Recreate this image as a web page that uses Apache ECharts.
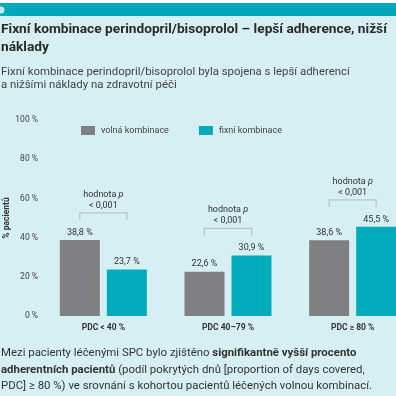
<!DOCTYPE html>
<html>
<head>
<meta charset="utf-8">
<script src="https://cdn.jsdelivr.net/npm/echarts@6/dist/echarts.min.js"></script>
<style>
  html, body { margin: 0; padding: 0; background: #d6eff3; }
  #chart { width: 396px; height: 396px; }
</style>
</head>
<body>
<div id="chart"></div>
<script>
// data
const categories = ['PDC < 40 %', 'PDC 40–79 %', 'PDC ≥ 80 %'];
const volna = [38.8, 22.6, 38.6];
const fixni = [23.7, 30.9, 45.5];
const pLabels = ['< 0,001', '< 0,001', '< 0,001'];
const yTicks = [0, 20, 40, 60, 80, 100];

const GRAY = '#808082';
const TEAL = '#00abbb';
const FONT = 'Roboto';

let chart = echarts.init(document.getElementById('chart'), null, { renderer: 'canvas' });

const fmt = (v) => v.toFixed(1).replace('.', ',') + ' %';

// bracket + p-value above each group
const bracketData = categories.map((c, i) => [i, Math.max(volna[i], fixni[i]), pLabels[i]]);

let option = {
  backgroundColor: '#d6eff3',
  animation: false,
  textStyle: { fontFamily: FONT },
  graphic: [
    { type: 'rect', shape: { x: 0, y: 3, width: 396, height: 13 }, style: { fill: '#00a9b9' } },
    { type: 'rect', shape: { x: 0, y: 0, width: 396, height: 3 }, style: { fill: '#ffffff' } },
    { type: 'circle', shape: { cx: 1, cy: 10, r: 3.5 }, style: { fill: '#bfe9ee' } }
  ],
  title: [
    {
      text: 'Fixní kombinace perindopril/bisoprolol – lepší adherence, nižší\nnáklady',
      left: 1, top: 21, padding: 0,
      textStyle: { fontFamily: FONT, fontSize: 13.7, fontWeight: 'bold', color: '#2a2a2a', lineHeight: 18 }
    },
    {
      text: 'Fixní kombinace perindopril/bisoprolol byla spojena s lepší adherencí\na nižšími náklady na zdravotní péči',
      left: 1, top: 65, padding: 0,
      textStyle: { fontFamily: FONT, fontSize: 11.4, fontWeight: 'normal', color: '#444', lineHeight: 13.5 }
    },
    {
      text: 'Mezi pacienty léčenými SPC bylo zjištěno {b|signifikantně vyšší procento}\n{b|adherentních pacientů} (podíl pokrytých dnů [proportion of days covered,\nPDC] ≥ 80 %) ve srovnání s kohortou pacientů léčených volnou kombinací.',
      left: 1, top: 345, padding: 0,
      textStyle: {
        fontFamily: FONT, fontSize: 11.4, fontWeight: 'normal', color: '#333', lineHeight: 16.5,
        rich: { b: { fontFamily: FONT, fontSize: 11.4, fontWeight: 'bold', color: '#333', lineHeight: 16.5 } }
      }
    }
  ],
  legend: {
    left: 81, top: 126, padding: 0,
    itemWidth: 14, itemHeight: 9, itemGap: 30,
    icon: 'rect',
    textStyle: { fontFamily: FONT, fontSize: 9, color: '#444', padding: [0, 0, 0, 1] },
    data: ['volná kombinace', 'fixní kombinace']
  },
  grid: { left: 41, top: 120, width: 374, bottom: 80, outerBoundsMode: 'none', containLabel: false },
  xAxis: {
    type: 'category',
    data: categories,
    axisLine: { show: false },
    axisTick: { show: false },
    axisLabel: { fontFamily: FONT, fontSize: 8.5, fontWeight: 'bold', color: '#333', margin: 7 }
  },
  yAxis: {
    type: 'value',
    min: 0, max: 100, interval: 20,
    name: '% pacientů',
    nameLocation: 'middle',
    nameGap: 30,
    nameMoveOverlap: false,
    nameTextStyle: { fontFamily: FONT, fontSize: 8.5, fontWeight: 'bold', color: '#333' },
    splitLine: { show: false },
    axisLine: { show: false },
    axisTick: { show: false },
    axisLabel: {
      fontFamily: FONT, fontSize: 8.5, color: '#444', margin: 3,
      formatter: (v) => (yTicks.includes(v) ? v + ' %' : '')
    }
  },
  series: [
    {
      name: 'volná kombinace', type: 'bar', data: volna,
      barWidth: 40, barGap: '17.5%',
      itemStyle: { color: GRAY },
      label: { show: true, position: 'top', distance: 3, fontFamily: FONT, fontSize: 9, color: '#333', formatter: (p) => fmt(p.value) }
    },
    {
      name: 'fixní kombinace', type: 'bar', data: fixni,
      barWidth: 40,
      itemStyle: { color: TEAL },
      label: { show: true, position: 'top', distance: 3, fontFamily: FONT, fontSize: 9, color: '#333', formatter: (p) => fmt(p.value) }
    },
    {
      type: 'custom',
      data: bracketData,
      silent: true,
      z: 5,
      renderItem: (params, api) => {
        const pt = api.coord([api.value(0), api.value(1)]);
        const x = pt[0];
        const y = pt[1] - 27;
        const half = 23.5;
        return {
          type: 'group',
          children: [
            {
              type: 'polyline',
              shape: { points: [[x - half, y + 7], [x - half, y], [x + half, y], [x + half, y + 7]] },
              style: { stroke: '#b9c6c9', lineWidth: 1.3, fill: null }
            },
            {
              type: 'text',
              style: {
                x: x, y: y - 2,
                text: 'hodnota {i|p}\n' + bracketData[params.dataIndex][2],
                align: 'center', verticalAlign: 'bottom',
                fontFamily: FONT, fontSize: 9, fill: '#333', lineHeight: 11,
                rich: { i: { fontFamily: FONT, fontSize: 9, fontStyle: 'italic', fill: '#333' } }
              }
            }
          ]
        };
      }
    }
  ]
};

chart.setOption(option);
</script>
</body>
</html>
